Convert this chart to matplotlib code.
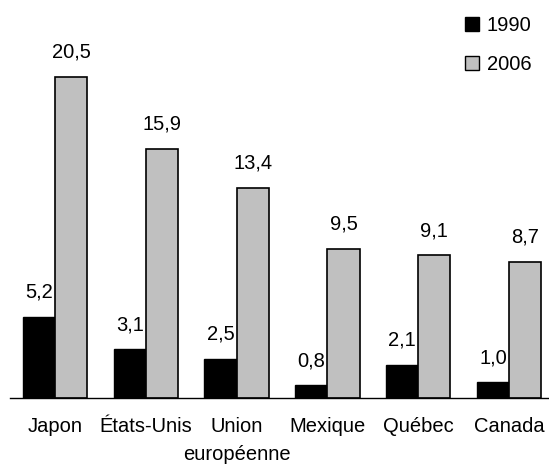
import numpy as np
import matplotlib.pyplot as plt
from matplotlib.patches import Patch

plt.rcParams['font.family'] = ['Liberation Sans', 'DejaVu Sans']

# Data
categories = ['Japon', 'États-Unis', 'Union\neuropéenne', 'Mexique', 'Québec', 'Canada']
values_1990 = [5.2, 3.1, 2.5, 0.8, 2.1, 1.0]
values_2006 = [20.5, 15.9, 13.4, 9.5, 9.1, 8.7]
series_labels = ['1990', '2006']

fs = 14.5
x = np.arange(len(categories))
w = 0.355

fig = plt.figure(figsize=(5.49, 4.66), dpi=100)
ax = fig.add_axes([10 / 549, 68 / 466, 539 / 549, 398 / 466])

b1 = ax.bar(x - w / 2, values_1990, w, color='black', edgecolor='black', linewidth=1)
b2 = ax.bar(x + w / 2, values_2006, w, color='#c0c0c0', edgecolor='black', linewidth=1.2)

def fmt(v):
    return f'{v:.1f}'.replace('.', ',')

for bars, vals in ((b1, values_1990), (b2, values_2006)):
    for rect, v in zip(bars, vals):
        ax.annotate(fmt(v), (rect.get_x() + rect.get_width() / 2, v),
                    xytext=(0, 11), textcoords='offset points',
                    ha='center', va='bottom', fontsize=fs)

ax.set_xlim(-0.496, 5.44)
ax.set_ylim(0, 25.4)
ax.set_yticks([])
ax.set_xticks(x)
# first line as tick label, second line (if any) as its own text below
ax.set_xticklabels([c.split('\n')[0] for c in categories], fontsize=fs)
for i, c in enumerate(categories):
    parts = c.split('\n')
    if len(parts) > 1:
        ax.annotate(parts[1], (i, 0), xytext=(0, -41), textcoords='offset points',
                    ha='center', va='center', fontsize=fs, annotation_clip=False)
ax.tick_params(axis='x', length=0, pad=14)
for s in ['top', 'right', 'left']:
    ax.spines[s].set_visible(False)
ax.spines['bottom'].set_linewidth(1)

handles = [Patch(facecolor='black', edgecolor='black'),
           Patch(facecolor='#c0c0c0', edgecolor='black')]
fig.legend(handles, series_labels, loc='upper left', bbox_to_anchor=(465 / 549, 1 - 16 / 466),
           frameon=False, fontsize=fs, handlelength=0.69, handleheight=0.69,
           handletextpad=0.38, labelspacing=1.0, borderpad=0, borderaxespad=0)

fig.savefig('out.png', dpi=100)
